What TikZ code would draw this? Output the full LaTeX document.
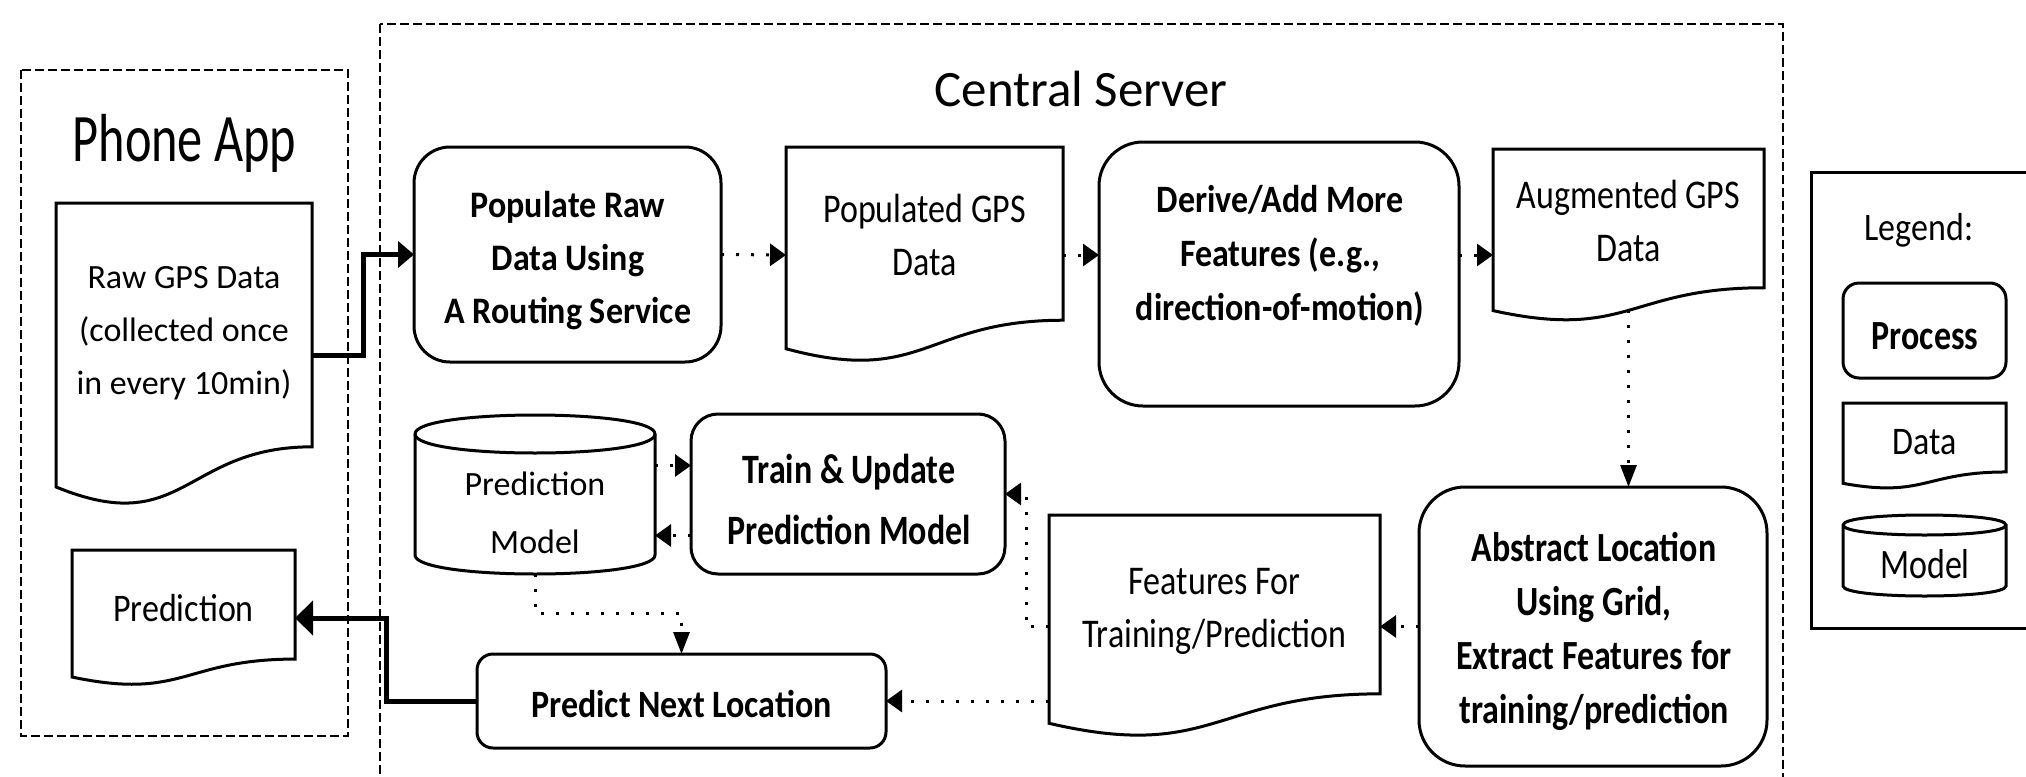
\documentclass[tikz,border=0pt]{standalone}
\usepackage{fontspec}
\setmainfont{Carlito}
\usetikzlibrary{arrows.meta,calc}

\tikzset{
  outline/.style={draw=black, line width=1.5pt},
  hole/.style={inner sep=0pt, outer sep=0pt, draw=none},
  proc/.style={outline, rounded corners=#1, inner sep=0pt, outer sep=0pt},
  sz/.style 2 args={minimum width={(#1)*0.5pt}, minimum height={(#2)*0.5pt}},
  txt/.style={inner sep=0pt},
  btxt/.style={inner sep=0pt, font=\bfseries},
  dotline/.style={line width=1.5pt, dash pattern=on 1.5pt off 6pt},
  harrow/.style={-{Triangle[length=8pt,width=11pt]}},
  varrow/.style={-{Triangle[length=11pt,width=8pt]}},
  solidline/.style={line width=2.5pt},
  container/.style={line width=1.4pt, dash pattern=on 4.5pt off 2pt},
}

% text lines: vertical stretch, baselineskip, lines
\newcommand{\Lines}[3]{\scalebox{1}[#1]{\fontsize{17pt}{#2}\selectfont\begin{tabular}{@{}c@{}}#3\end{tabular}}}

% document shape: name, x0, y0, w, h  (pixel units, y downwards)
\newcommand{\DocShape}[5]{%
  \node[hole, anchor=north west, sz={#4}{#5}] (#1) at (#2,#3) {};
  \draw[outline, line join=miter] (#2,#3) -- ({#2+#4},#3) -- ({#2+#4},{#3+0.802*#5})
     .. controls ({#2+0.5*#4},{#3+0.802*#5}) and ({#2+0.5*#4},{#3+1.107*#5}) .. (#2,{#3+0.934*#5}) -- cycle;
}
% cylinder shape: name, x0, x1, top, bottom, ry
\newcommand{\CanShape}[6]{%
  \node[hole, sz={#3-#2}{#5-#4}] (#1) at ({(#2+#3)/2},{(#4+#5)/2}) {};
  \draw[outline] (#2,{#4+#6}) -- (#2,{#5-#6})
     .. controls (#2,{#5+#6/3}) and (#3,{#5+#6/3}) .. (#3,{#5-#6})
     -- (#3,{#4+#6})
     .. controls (#3,{#4-#6/3}) and (#2,{#4-#6/3}) .. (#2,{#4+#6}) -- cycle;
  \draw[outline] (#3,{#4+#6}) .. controls (#3,{#4+#6+4/3*#6}) and (#2,{#4+#6+4/3*#6}) .. (#2,{#4+#6});
}

\begin{document}
\begin{tikzpicture}[x=0.5pt, y=-0.5pt]
\useasboundingbox (0,0) rectangle (2026,777);
\clip (0,0) rectangle (2026,777);

% containers
\draw[container] (21,70) rectangle (348,736);
\draw[container] (380,24) rectangle (1783,800);
\draw[outline] (1811,172) rectangle (2040,628);

% titles
\node[inner sep=0pt, anchor=base, font=\fontsize{34pt}{40pt}\selectfont] (phonetitle) at (184.5,161) {\scalebox{0.74}[1]{Phone App}};
\node[inner sep=0pt, anchor=base, font=\fontsize{25.5pt}{30pt}\selectfont] (servertitle) at (1081,106) {Central Server};

% phone app
\DocShape{raw}{56}{203}{256}{304}
\node[txt] (rawtxt) at (184,330.4) {\Lines{1.0}{26.5pt}{Raw GPS Data\\(collected once\\in every 10min)}};
\DocShape{pred}{72}{550}{223}{136}
\node[txt] (predtxt) at (183.5,610) {\Lines{1.15}{25pt}{Prediction}};

% server, top row
\node[proc=18pt, sz={307}{215}] (populate) at (567.5,254.5) {};
\node[btxt] (populatetxt) at (568,259.8) {\Lines{1.1}{24.3pt}{Populate Raw\\Data Using\\A Routing Service}};
\DocShape{popd}{786}{147}{277}{216}
\node[txt] (popdtxt) at (924.5,238.6) {\Lines{1.2}{21.7pt}{Populated GPS\\Data}};
\node[proc=22pt, sz={360}{264}] (derive) at (1279,274) {};
\node[btxt] (derivetxt) at (1280,255.8) {\Lines{1.14}{23.5pt}{Derive/Add More\\Features (e.g.,\\direction-of-motion)}};
\DocShape{aug}{1493}{149}{271}{173}
\node[txt] (augtxt) at (1628.5,224.6) {\Lines{1.2}{21.7pt}{Augmented GPS\\Data}};
\coordinate (augb) at (1628.5,310.4);

% server, lower part
\node[proc=23pt, sz={348}{279}] (abstract) at (1593,626.5) {};
\node[btxt] (abstracttxt) at (1594,631.7) {\Lines{1.22}{22.1pt}{Abstract Location\\Using Grid,\\Extract Features for\\training/prediction}};
\DocShape{feat}{1049}{515}{331}{223}
\node[txt] (feattxt) at (1214.5,610.6) {\Lines{1.2}{21.7pt}{Features For\\Training/Prediction}};
\node[proc=13.5pt, sz={314}{160}] (train) at (848,494) {};
\node[btxt] (traintxt) at (849,501.6) {\Lines{1.23}{25.2pt}{Train \& Update\\Prediction Model}};
\CanShape{model}{415}{655}{415}{574}{19}
\node[txt] (modeltxt) at (535,512.4) {\Lines{1.0}{29pt}{Prediction\\Model}};
\node[proc=8pt, sz={409}{94}] (predict) at (681.5,701) {};
\node[btxt] (predicttxt) at (681.5,705.6) {\Lines{1.14}{25pt}{Predict Next Location}};

% legend
\node[txt] (legendtxt) at (1919,228.5) {\Lines{1.15}{25pt}{Legend:}};
\node[proc=8pt, sz={163}{95}] (lproc) at (1924.5,330.5) {};
\node[btxt] (lproctxt) at (1925,336.8) {\Lines{1.22}{25pt}{Process}};
\DocShape{ldata}{1843}{403}{163}{86}
\node[txt] (ldatatxt) at (1925,442.5) {\Lines{1.15}{25pt}{Data}};
\CanShape{lmodel}{1843}{2006}{515}{596}{10}
\node[txt] (lmodeltxt) at (1925,565.7) {\Lines{1.23}{25pt}{Model}};

% connectors
\draw[solidline, -{Triangle[length=8pt,width=13pt]}] (raw.east) -- ++(51,0) |- (populate.west);
\draw[dotline, harrow] (populate.east) -- (popd.west);
\draw[dotline, harrow] (popd.east) -- (popd.east -| derive.west);
\draw[dotline, harrow] (derive.east |- popd.east) -- (aug.west |- popd.east);
\draw[dotline, varrow] (augb) -- (augb |- abstract.north);
\draw[dotline, harrow] (abstract.west) -- (feat.east);
\draw[dotline, harrow] (feat.west) -- ++(-23,0) |- (train.east);
\draw[dotline, harrow] (feat.west |- predict.east) -- (predict.east);
\coordinate (m1) at ($(model.east)+(0,-29)$);
\coordinate (m2) at ($(model.east)+(0,41)$);
\draw[dotline, harrow] (m1) -- (m1 -| train.west);
\draw[dotline, harrow] (m2 -| train.west) -- (m2);
\draw[dotline, varrow] (model.south) -- ++(0,39) -| (predict.north);
\draw[solidline, -{Triangle[length=9pt,width=17pt]}] (predict.west) -- ++(-91,0) |- (pred.east);
\end{tikzpicture}
\end{document}
